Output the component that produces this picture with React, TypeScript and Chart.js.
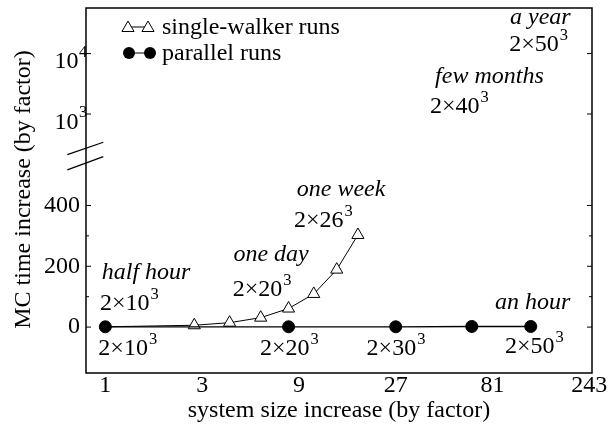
import { useEffect, useRef } from 'react';
import { Chart, registerables } from 'chart.js';

Chart.register(...registerables);

const FONT = '"Liberation Serif", "Times New Roman", Times, serif';
const FS = 24;
const SUP = 16.5;

// ---- data ----
const xTicks = [1, 3, 9, 27, 81, 243];
const yLowTicks = [0, 200, 400];
const yLowMinor = [100, 300];
const yHighTicks = [1000, 10000];

const singleX = [1, 2.744, 4.096, 5.832, 8, 10.648, 13.824, 17.576];
const singleY = [1, 6, 14.5, 31, 61, 109, 189, 303];
const parallelX = [1, 8, 27, 64, 125];
const parallelY = [1, 1, 1, 2, 2];

const legendLabels = ['single-walker runs', 'parallel runs'];
const axisTitleX = 'system size increase (by factor)';
const axisTitleY = 'MC time increase (by factor)';

// annotation texts anchored in data coordinates (left / baseline)
const noteText = ['half hour', '2\u00D710', '2\u00D710', 'one day', '2\u00D720', '2\u00D720', 'one week', '2\u00D726', 'a year', '2\u00D750', 'few months', '2\u00D740', 'an hour', '2\u00D730', '2\u00D750'];
const noteSup = ['', '3', '3', '', '3', '3', '', '3', '', '3', '', '3', '', '3', '3'];
const noteItalic = [true, false, false, true, false, false, true, false, true, false, true, false, true, false, false];
const noteX = [0.96, 0.942, 0.924, 4.28, 4.25, 5.79, 8.78, 8.51, 98.8, 98, 42.2, 39.85, 83.3, 19.4, 93.4];
const noteY = [157, 56, -92, 216, 102, -92, 430, 329, 31000, 11200, 3320, 1050, 61, -92, -86];
const noteAxis = ['y', 'y', 'y', 'y', 'y', 'y', 'y', 'y', 'y2', 'y2', 'y2', 'y2', 'y', 'y', 'y'];

function drawTri(ctx: CanvasRenderingContext2D, cx: number, cy: number, r: number) {
  const h = r * Math.sqrt(3) / 2;
  ctx.beginPath();
  ctx.moveTo(cx, cy - r);
  ctx.lineTo(cx + h, cy + r / 2);
  ctx.lineTo(cx - h, cy + r / 2);
  ctx.closePath();
  ctx.fillStyle = '#fff';
  ctx.fill();
  ctx.stroke();
}

function drawSupText(ctx: CanvasRenderingContext2D, text: string, sup: string, x: number, y: number, italic: boolean) {
  ctx.font = `${italic ? 'italic ' : ''}${FS}px ${FONT}`;
  ctx.textAlign = 'left';
  ctx.textBaseline = 'alphabetic';
  ctx.fillText(text, x, y);
  if (sup) {
    const w = ctx.measureText(text).width;
    ctx.font = `${SUP}px ${FONT}`;
    ctx.fillText(sup, x + w + 1, y - 11);
  }
}

const decor = {
  id: 'decor',
  beforeDatasetsDraw(chart: any) {
    const { ctx, chartArea: a, scales } = chart;
    const yl = scales.y;
    const yh = scales.y2;
    ctx.save();
    ctx.strokeStyle = '#000';
    ctx.lineWidth = 1.5;
    ctx.strokeRect(a.left, a.top, a.right - a.left, a.bottom - a.top);
    ctx.lineWidth = 1;
    const tick = (y: number, len: number) => {
      ctx.beginPath();
      ctx.moveTo(a.left, y);
      ctx.lineTo(a.left + len, y);
      ctx.moveTo(a.right, y);
      ctx.lineTo(a.right - len, y);
      ctx.stroke();
    };
    yLowTicks.forEach((v) => tick(yl.getPixelForValue(v), 5));
    yLowMinor.forEach((v) => tick(yl.getPixelForValue(v), 3));
    yHighTicks.forEach((v) => tick(yh.getPixelForValue(v), 5));
    // axis break marks
    const yb = yl.top;
    const xb = a.left;
    ctx.lineWidth = 1.2;
    ctx.beginPath();
    ctx.moveTo(xb - 18.7, yb - 1);
    ctx.lineTo(xb + 17.3, yb - 13.3);
    ctx.moveTo(xb - 18.7, yb + 14.3);
    ctx.lineTo(xb + 17.3, yb + 1);
    ctx.stroke();
    ctx.restore();
  },
  afterDatasetsDraw(chart: any) {
    const { ctx, chartArea: a, scales } = chart;
    const yh = scales.y2;
    ctx.save();
    ctx.fillStyle = '#000';
    ctx.strokeStyle = '#000';
    // upper log tick labels 10^n
    yHighTicks.forEach((v) => {
      const y = yh.getPixelForValue(v);
      ctx.font = `${FS}px ${FONT}`;
      ctx.textAlign = 'right';
      ctx.textBaseline = 'alphabetic';
      ctx.fillText('10', a.left - 7.5, y + 14.5);
      ctx.font = `${SUP}px ${FONT}`;
      ctx.textAlign = 'left';
      ctx.fillText(String(Math.round(Math.log10(v))), a.left - 7, y + 3);
    });
    // annotations
    noteText.forEach((t, i) => {
      const sc = scales[noteAxis[i]];
      const px = scales.x.getPixelForValue(noteX[i]);
      const py = sc.getPixelForValue(noteY[i]);
      ctx.fillStyle = '#000';
      drawSupText(ctx, t, noteSup[i], px, py, noteItalic[i]);
    });
    // legend
    ctx.lineWidth = 1;
    ctx.strokeStyle = '#000';
    const lx1 = a.left + 42;
    const lx2 = a.left + 62;
    const ly1 = a.top + 20;
    const ly2 = a.top + 45;
    ctx.beginPath();
    ctx.moveTo(lx1, ly1 - 1);
    ctx.lineTo(lx2, ly1 - 1);
    ctx.stroke();
    drawTri(ctx, lx1, ly1, 7);
    drawTri(ctx, lx2, ly1, 7);
    ctx.beginPath();
    ctx.moveTo(lx1 + 1, ly2);
    ctx.lineTo(lx2 + 2, ly2);
    ctx.stroke();
    ctx.fillStyle = '#000';
    [lx1 + 1, lx2 + 2].forEach((cx) => {
      ctx.beginPath();
      ctx.arc(cx, ly2, 6, 0, Math.PI * 2);
      ctx.fill();
    });
    ctx.font = `${FS}px ${FONT}`;
    ctx.textAlign = 'left';
    ctx.textBaseline = 'alphabetic';
    ctx.fillText(legendLabels[0], a.left + 76, a.top + 26);
    ctx.fillText(legendLabels[1], a.left + 76, a.top + 52);
    // y axis title
    ctx.translate(29.5, (a.top + a.bottom) / 2 - 1);
    ctx.rotate(-Math.PI / 2);
    ctx.textAlign = 'center';
    ctx.fillText(axisTitleY, 0, 0);
    ctx.restore();
  },
};

export default function App() {
  const ref = useRef<HTMLCanvasElement>(null);
  useEffect(() => {
    document.body.style.margin = '0';
    const canvas = ref.current!;
    const fixY = (s: any) => {
      s.width = 86;
      s.paddingTop = 0;
      s.paddingBottom = 0;
    };
    const noGrid = { display: false, drawTicks: false, tickLength: 0 };
    const chart = new Chart(canvas, {
      type: 'scatter',
      data: {
        datasets: [
          {
            label: legendLabels[1],
            data: parallelX.map((x, i) => ({ x, y: parallelY[i] })),
            showLine: true,
            borderColor: '#000',
            borderWidth: 1.3,
            pointStyle: 'circle',
            pointRadius: 6,
            pointBackgroundColor: '#000',
            pointBorderColor: '#000',
            pointBorderWidth: 1,
            xAxisID: 'x',
            yAxisID: 'y',
            order: 0,
          },
          {
            label: legendLabels[0],
            data: singleX.map((x, i) => ({ x, y: singleY[i] })),
            showLine: true,
            borderColor: '#000',
            borderWidth: 1,
            pointStyle: 'triangle',
            pointRadius: singleX.map((_, i) => (i === 0 ? 0 : 7)),
            pointBackgroundColor: '#fff',
            pointBorderColor: '#000',
            pointBorderWidth: 1,
            xAxisID: 'x',
            yAxisID: 'y',
            order: 1,
          },
        ],
      },
      options: {
        animation: false,
        responsive: false,
        devicePixelRatio: 1,
        layout: { padding: { top: 7, right: 16, bottom: 0, left: 0 } },
        plugins: { legend: { display: false }, tooltip: { enabled: false } },
        scales: {
          x: {
            type: 'logarithmic',
            min: 0.803,
            max: 250.5,
            grid: noGrid,
            border: { display: false },
            afterBuildTicks: (s: any) => {
              s.ticks = xTicks.map((v) => ({ value: v }));
            },
            afterFit: (s: any) => {
              s.height = 57;
              s.paddingLeft = 0;
              s.paddingRight = 0;
            },
            ticks: {
              color: '#000',
              padding: 0,
              autoSkip: false,
              maxRotation: 0,
              font: { family: FONT, size: FS, lineHeight: 1.05 },
              callback: (v: any) => String(v),
            },
            title: {
              display: true,
              text: axisTitleX,
              color: '#000',
              font: { family: FONT, size: FS },
              padding: { top: 0, bottom: 5 },
            },
          },
          y: {
            type: 'linear',
            position: 'left',
            stack: 'ybreak',
            stackWeight: 218,
            min: -151,
            max: 564,
            grid: noGrid,
            border: { display: false },
            afterBuildTicks: (s: any) => {
              s.ticks = yLowTicks.map((v) => ({ value: v }));
            },
            afterFit: fixY,
            ticks: {
              color: '#000',
              padding: 6,
              font: { family: FONT, size: FS },
              callback: (v: any) => String(v),
            },
          },
          y2: {
            type: 'logarithmic',
            position: 'left',
            stack: 'ybreak',
            stackWeight: 148,
            min: 205,
            max: 56800,
            grid: noGrid,
            border: { display: false },
            afterBuildTicks: (s: any) => {
              s.ticks = yHighTicks.map((v) => ({ value: v }));
            },
            afterFit: fixY,
            ticks: { display: false },
          },
        },
      },
      plugins: [decor],
    } as any);
    return () => chart.destroy();
  }, []);
  return (
    <div style={{ position: 'absolute', left: 0, top: 0, width: 608, height: 430 }}>
      <canvas ref={ref} width={608} height={430} style={{ display: 'block', width: 608, height: 430 }} />
    </div>
  );
}
